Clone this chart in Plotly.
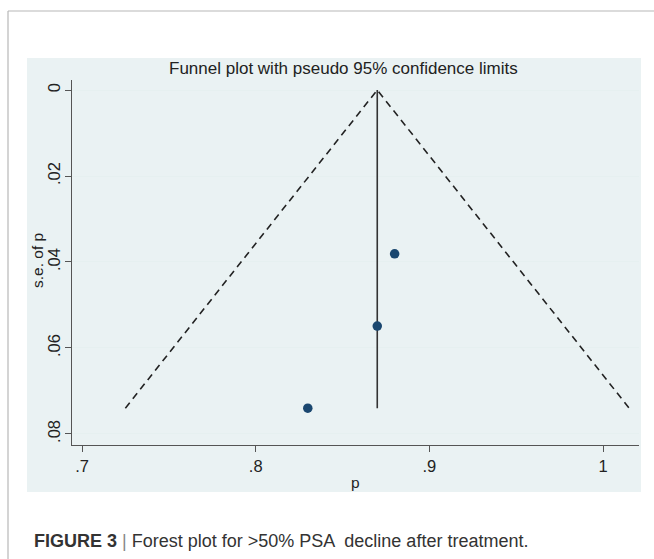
import plotly.graph_objects as go

# ---- data ----
p_values = [0.880, 0.870, 0.830]
se_values = [0.0381, 0.0549, 0.0740]
pooled_p = 0.870
z95 = 1.96

x_tickvals = [0.7, 0.8, 0.9, 1.0]
x_ticktext = [".7", ".8", ".9", "1"]
y_tickvals = [0, 0.02, 0.04, 0.06, 0.08]
y_ticktext = ["0", ".02", ".04", ".06", ".08"]

title_text = "Funnel plot with pseudo 95% confidence limits"
x_title = "p"
y_title = "s.e. of p"

W, H = 654, 559
def px(x):
    return x / W
def py(y):
    return 1 - y / H

max_se = max(se_values)
funnel_x = [pooled_p - z95 * max_se, pooled_p, pooled_p + z95 * max_se]
funnel_y = [max_se, 0, max_se]

FONT = "Liberation Sans, Arial, sans-serif"

fig = go.Figure()

fig.add_trace(go.Scatter(x=funnel_x, y=funnel_y, mode="lines",
                         line=dict(color="#222", width=1.6, dash="7px,5px"),
                         hoverinfo="skip", showlegend=False))
fig.add_trace(go.Scatter(x=[pooled_p, pooled_p], y=[0, max_se], mode="lines",
                         line=dict(color="#333", width=1.6),
                         hoverinfo="skip", showlegend=False))
fig.add_trace(go.Scatter(x=p_values, y=se_values, mode="markers",
                         marker=dict(color="#1a476f", size=9.5),
                         showlegend=False))

shapes = [
    dict(type="line", xref="paper", yref="paper", x0=px(8), x1=px(654), y0=py(11), y1=py(11),
         line=dict(color="#b8b8b8", width=1.2), layer="below"),
    dict(type="line", xref="paper", yref="paper", x0=px(8), x1=px(8), y0=py(11), y1=py(559),
         line=dict(color="#b8b8b8", width=1.2), layer="below"),
    dict(type="rect", xref="paper", yref="paper", x0=px(27), x1=px(641), y0=py(58), y1=py(492),
         fillcolor="#eaf2f3", line=dict(width=0), layer="below"),
]

annotations = [
    dict(text=title_text, xref="paper", yref="paper", x=px(343), y=py(68),
         showarrow=False, font=dict(family=FONT, size=17, color="#222"),
         xanchor="center", yanchor="middle"),
    dict(text=y_title, xref="paper", yref="paper", x=px(37), y=py(261),
         showarrow=False, textangle=-90, font=dict(family=FONT, size=15.5, color="#222"),
         xanchor="center", yanchor="middle"),
    dict(text=x_title, xref="paper", yref="paper", x=px(355), y=py(482),
         showarrow=False, font=dict(family=FONT, size=15.5, color="#222"),
         xanchor="center", yanchor="middle"),
    dict(text="<b>FIGURE 3</b> <span style='color:#888'>|</span> Forest plot for &gt;50% PSA  decline after treatment.",
         xref="paper", yref="paper", x=px(32), y=py(541),
         showarrow=False, font=dict(family=FONT, size=18, color="#333"),
         xanchor="left", yanchor="middle"),
]

fig.update_layout(
    width=W, height=H,
    margin=dict(l=0, r=0, t=0, b=0),
    paper_bgcolor="white",
    plot_bgcolor="white",
    shapes=shapes,
    annotations=annotations,
    xaxis=dict(domain=[px(72), px(639)], range=[0.69424, 1.0207],
               tickvals=x_tickvals, ticktext=x_ticktext,
               showgrid=False, zeroline=False,
               showline=True, linecolor="#555", linewidth=1.3,
               ticks="outside", ticklen=6, tickcolor="#555", tickwidth=1.3,
               tickfont=dict(family=FONT, size=16.5, color="#222"),
               anchor="y"),
    yaxis=dict(domain=[py(445), py(80)], range=[0.08257, -0.00233],
               tickvals=y_tickvals, ticktext=y_ticktext, tickangle=-90,
               ticklabelstandoff=-2,
               showgrid=True, gridcolor="#e6f0f0", gridwidth=1.2,
               zeroline=False,
               showline=True, linecolor="#555", linewidth=1.3,
               ticks="outside", ticklen=6, tickcolor="#555", tickwidth=1.3,
               tickfont=dict(family=FONT, size=16.5, color="#222"),
               anchor="x"),
)

fig.write_html("out.html", config={"displayModeBar": False},
               post_script="document.body.style.margin='0';")
